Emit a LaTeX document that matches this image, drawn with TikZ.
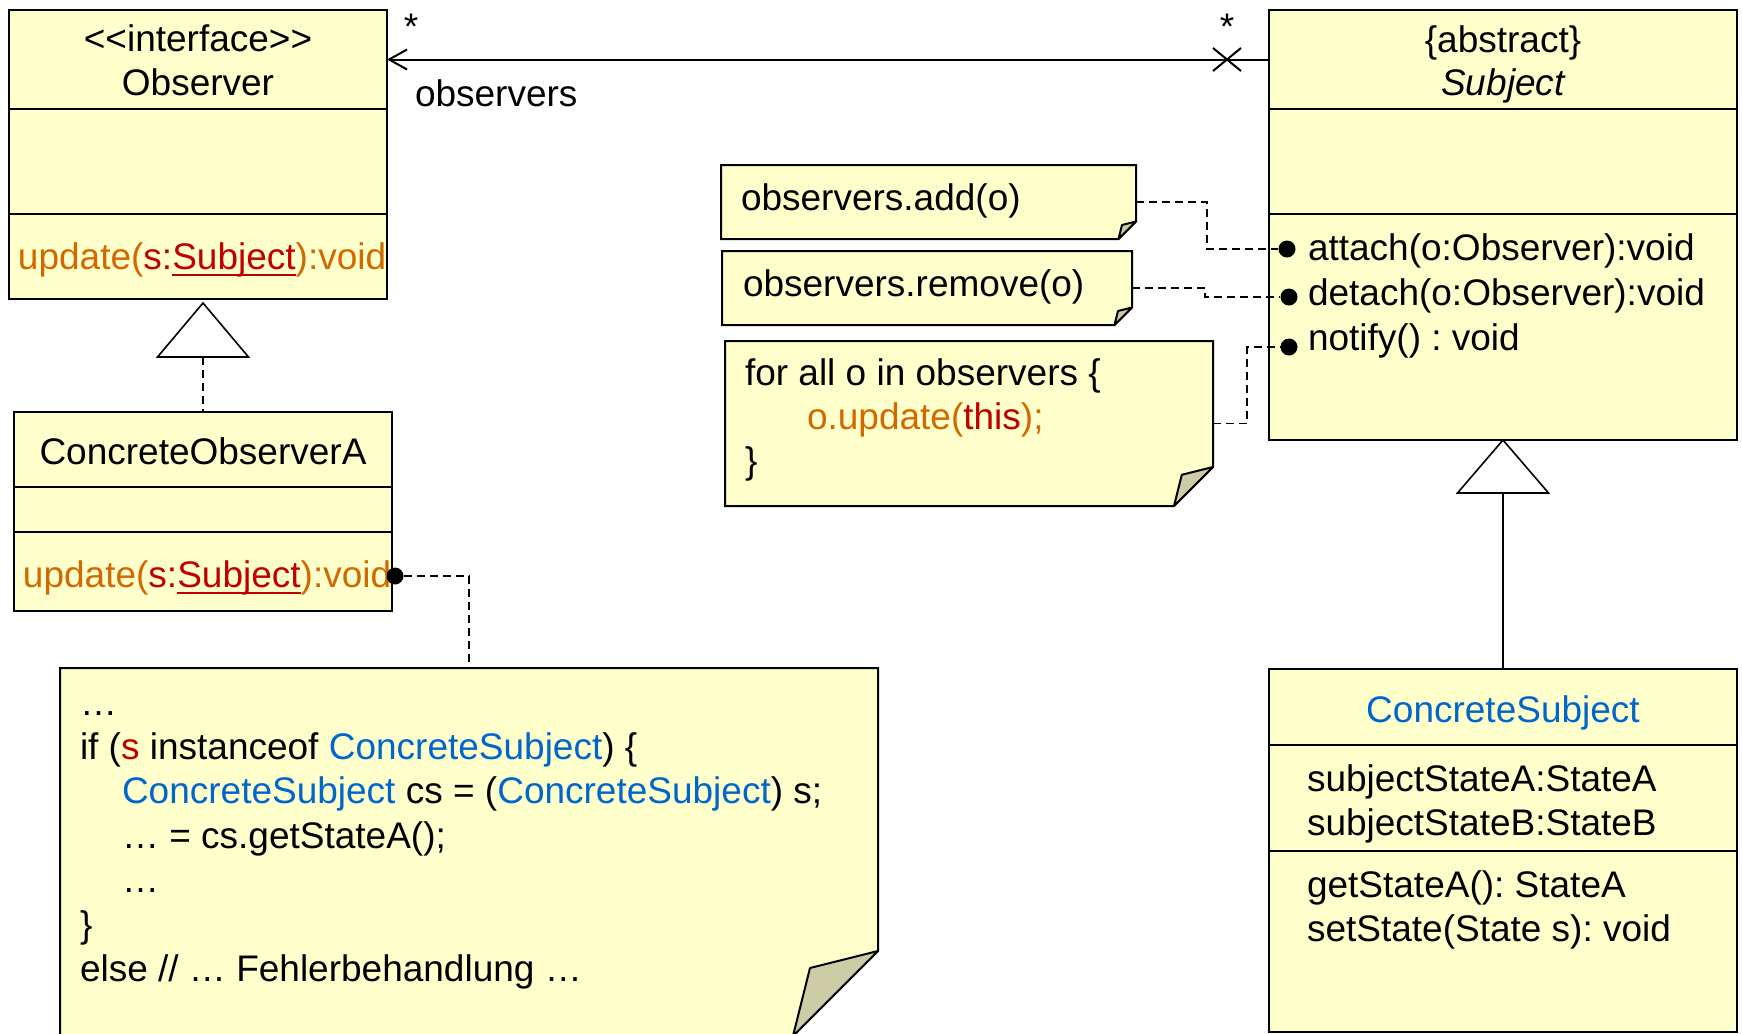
\documentclass[tikz,border=0pt]{standalone}
\usepackage{fontspec}
\setmainfont{Liberation Sans}
\usetikzlibrary{fit,calc,arrows.meta}
\definecolor{nfill}{RGB}{255,255,204}
\definecolor{flapc}{RGB}{204,204,166}
\definecolor{orng}{RGB}{210,105,0}
\definecolor{redc}{RGB}{192,0,0}
\definecolor{bluec}{RGB}{0,102,204}
\frenchspacing
\newcommand\fs{\fontsize{18.5}{22.25}\selectfont\frenchspacing}
\newcommand\myul[1]{\setbox0\hbox{#1}\rlap{\rule[-3.5pt]{\wd0}{1pt}}\box0}
\newcommand\foldnote[2]{%
  \draw[notest] (#1.north west) -- (#1.north east) -- ($(#1.south east)+(0,-#2)$)
     -- ($(#1.south east)+(-#2,0)$) -- (#1.south west) -- cycle;
  \draw[flapst] ($(#1.south east)+(0,-#2)$) -- ($(#1.south east)+(-0.8*#2,-0.8*#2)$)
     -- ($(#1.south east)+(-#2,0)$) -- cycle;
}
\begin{document}
\begin{tikzpicture}[x=0.5pt,y=-0.5pt,
  box/.style={draw=black,line width=1pt,fill=nfill,inner sep=0pt,outer sep=0pt},
  area/.style={inner sep=0pt,outer sep=0pt},
  notest/.style={draw=black,line width=1pt,fill=nfill},
  flapst/.style={draw=black,line width=1pt,fill=flapc,line join=round},
  lt/.style={anchor=base west,inner sep=0pt,outer sep=0pt,font=\fs},
  ct/.style={anchor=base,inner sep=0pt,outer sep=0pt,font=\fs},
  dotst/.style={circle,fill=black,inner sep=0pt,minimum size=8.5pt},
  dashconn/.style={draw=black,line width=0.75pt,dash pattern=on 4pt off 2.5pt},
  inh/.style={draw=black,line width=0.8pt,fill=white},
  assoc/.style={draw=black,line width=1pt},
]
\useasboundingbox (0,0) rectangle (1742,1034);

% ---- Observer
\node[box,fit={(9,10)(387,109)}] (obsH) {};
\node[box,fit={(9,109)(387,214)}] (obsA) {};
\node[box,fit={(9,214)(387,299)}] (obsO) {};
\node[ct] (obsS) at (198,51) {<\kern0pt<\kern0pt interface>\kern0pt>};
\node[ct] (obsN) at (198,95) {Observer};
\node[lt] (obsU) at (18,269) {\color{orng}update(\color{redc}s:\myul{Subject}\color{orng}):void};

% ---- Subject
\node[box,fit={(1269,10)(1737,109)}] (subH) {};
\node[box,fit={(1269,109)(1737,214)}] (subA) {};
\node[box,fit={(1269,214)(1737,440)}] (subO) {};
\node[ct] (subS) at (1503,52) {\{abstract\}};
\node[ct] (subN) at (1503,95) {\itshape Subject};
\node[lt] (op1) at (1308,260) {attach(o:Observer):void};
\node[lt] (op2) at (1308,305) {detach(o:Observer):void};
\node[lt] (op3) at (1308,350) {notify() : void};

% ---- ConcreteObserverA
\node[box,fit={(14,412)(392,487)}] (coH) {};
\node[box,fit={(14,487)(392,532)}] (coA) {};
\node[box,fit={(14,532)(392,611)}] (coO) {};
\node[ct] (coN) at (203,464) {ConcreteObserverA};
\node[lt] (coU) at (23,587) {\color{orng}update(\color{redc}s:\myul{Subject}\color{orng}):void};

% ---- ConcreteSubject
\node[box,fit={(1269,669)(1737,745)}] (csH) {};
\node[box,fit={(1269,745)(1737,851)}] (csA) {};
\node[box,fit={(1269,851)(1737,1032)}] (csO) {};
\node[ct] (csN) at (1503,722) {\color{bluec}ConcreteSubject};
\node[lt] (csA1) at (1307,791) {subjectStateA:StateA};
\node[lt] (csA2) at (1307,835) {subjectStateB:StateB};
\node[lt] (csO1) at (1307,897) {getStateA(): StateA};
\node[lt] (csO2) at (1307,941) {setState(State s): void};

% ---- notes
\node[area,fit={(721,165)(1136,239)}] (n1) {};
\foldnote{n1}{17.5}
\node[lt] (n1t) at (741,210) {observers.add(o)};

\node[area,fit={(722,251)(1132,325)}] (n2) {};
\foldnote{n2}{17.5}
\node[lt] (n2t) at (743,296) {observers.remove(o)};

\node[area,fit={(725,341)(1213,506)}] (n3) {};
\foldnote{n3}{39}
\node[lt] (n3a) at (745,385) {for all o in observers \{};
\node[lt] (n3b) at (807,429) {\color{orng}o.update(\color{redc}this\color{orng});};
\node[lt] (n3c) at (745,473) {\}};

\node[area,fit={(60,668)(878,1036)}] (bn) {};
\foldnote{bn}{85}
\node[lt] (b1) at (80,715) {…};
\node[lt] (b2) at (80,759) {if (\textcolor{redc}{s} instanceof \textcolor{bluec}{ConcreteSubject}) \{};
\node[lt] (b3) at (122,803) {\textcolor{bluec}{ConcreteSubject} cs = (\textcolor{bluec}{ConcreteSubject}) s;};
\node[lt] (b4) at (122,848) {… = cs.getStateA();};
\node[lt] (b5) at (122,892) {…};
\node[lt] (b6) at (80,937) {\}};
\node[lt] (b7) at (80,981) {else // … Fehlerbehandlung …};

% ---- association
\draw[assoc,-{Straight Barb[length=9pt,width=10pt]}] (subH.west) -- (obsH.east);
\coordinate (xm) at ($(subH.west)+(-42,0)$);
\draw[assoc] ($(xm)+(-14,-11.5)$) -- ($(xm)+(14,11.5)$);
\draw[assoc] ($(xm)+(-14,11.5)$) -- ($(xm)+(14,-11.5)$);
\node[ct] (st1) at (411,39) {*};
\node[ct] (st2) at (1227,39) {*};
\node[lt] (lbl) at (415,106) {observers};

% ---- generalisation / realisation
\coordinate (t1a) at (203,303);
\coordinate (t1b) at (203,357);
\draw[inh] (t1a) -- ++(45.5,54) -- ++(-91,0) -- cycle;
\draw[dashconn] (t1b) -- (coH.north);

\coordinate (t2a) at (subO.south);
\coordinate (t2b) at ($(t2a)+(0,53)$);
\draw[inh] (t2a) -- ++(45.5,53) -- ++(-91,0) -- cycle;
\draw[line width=0.8pt] (t2b) -- (csH.north);

% ---- dots and note connectors
\node[dotst] (dA) at (1287,249) {};
\node[dotst] (dD) at (1289,297) {};
\node[dotst] (dN) at (1289,347) {};
\node[dotst] (dU) at (395,576) {};
\draw[dashconn] (n1.east) -- ($(n1.east)+(71,0)$) |- (dA);
\draw[dashconn] (n2.east) -- ($(n2.east)+(73,0)$) |- (dD);
\draw[dashconn] (n3.east) -- ($(n3.east)+(34,0)$) |- (dN);
\draw[dashconn] (dU) -| (bn.north);
\end{tikzpicture}
\end{document}
